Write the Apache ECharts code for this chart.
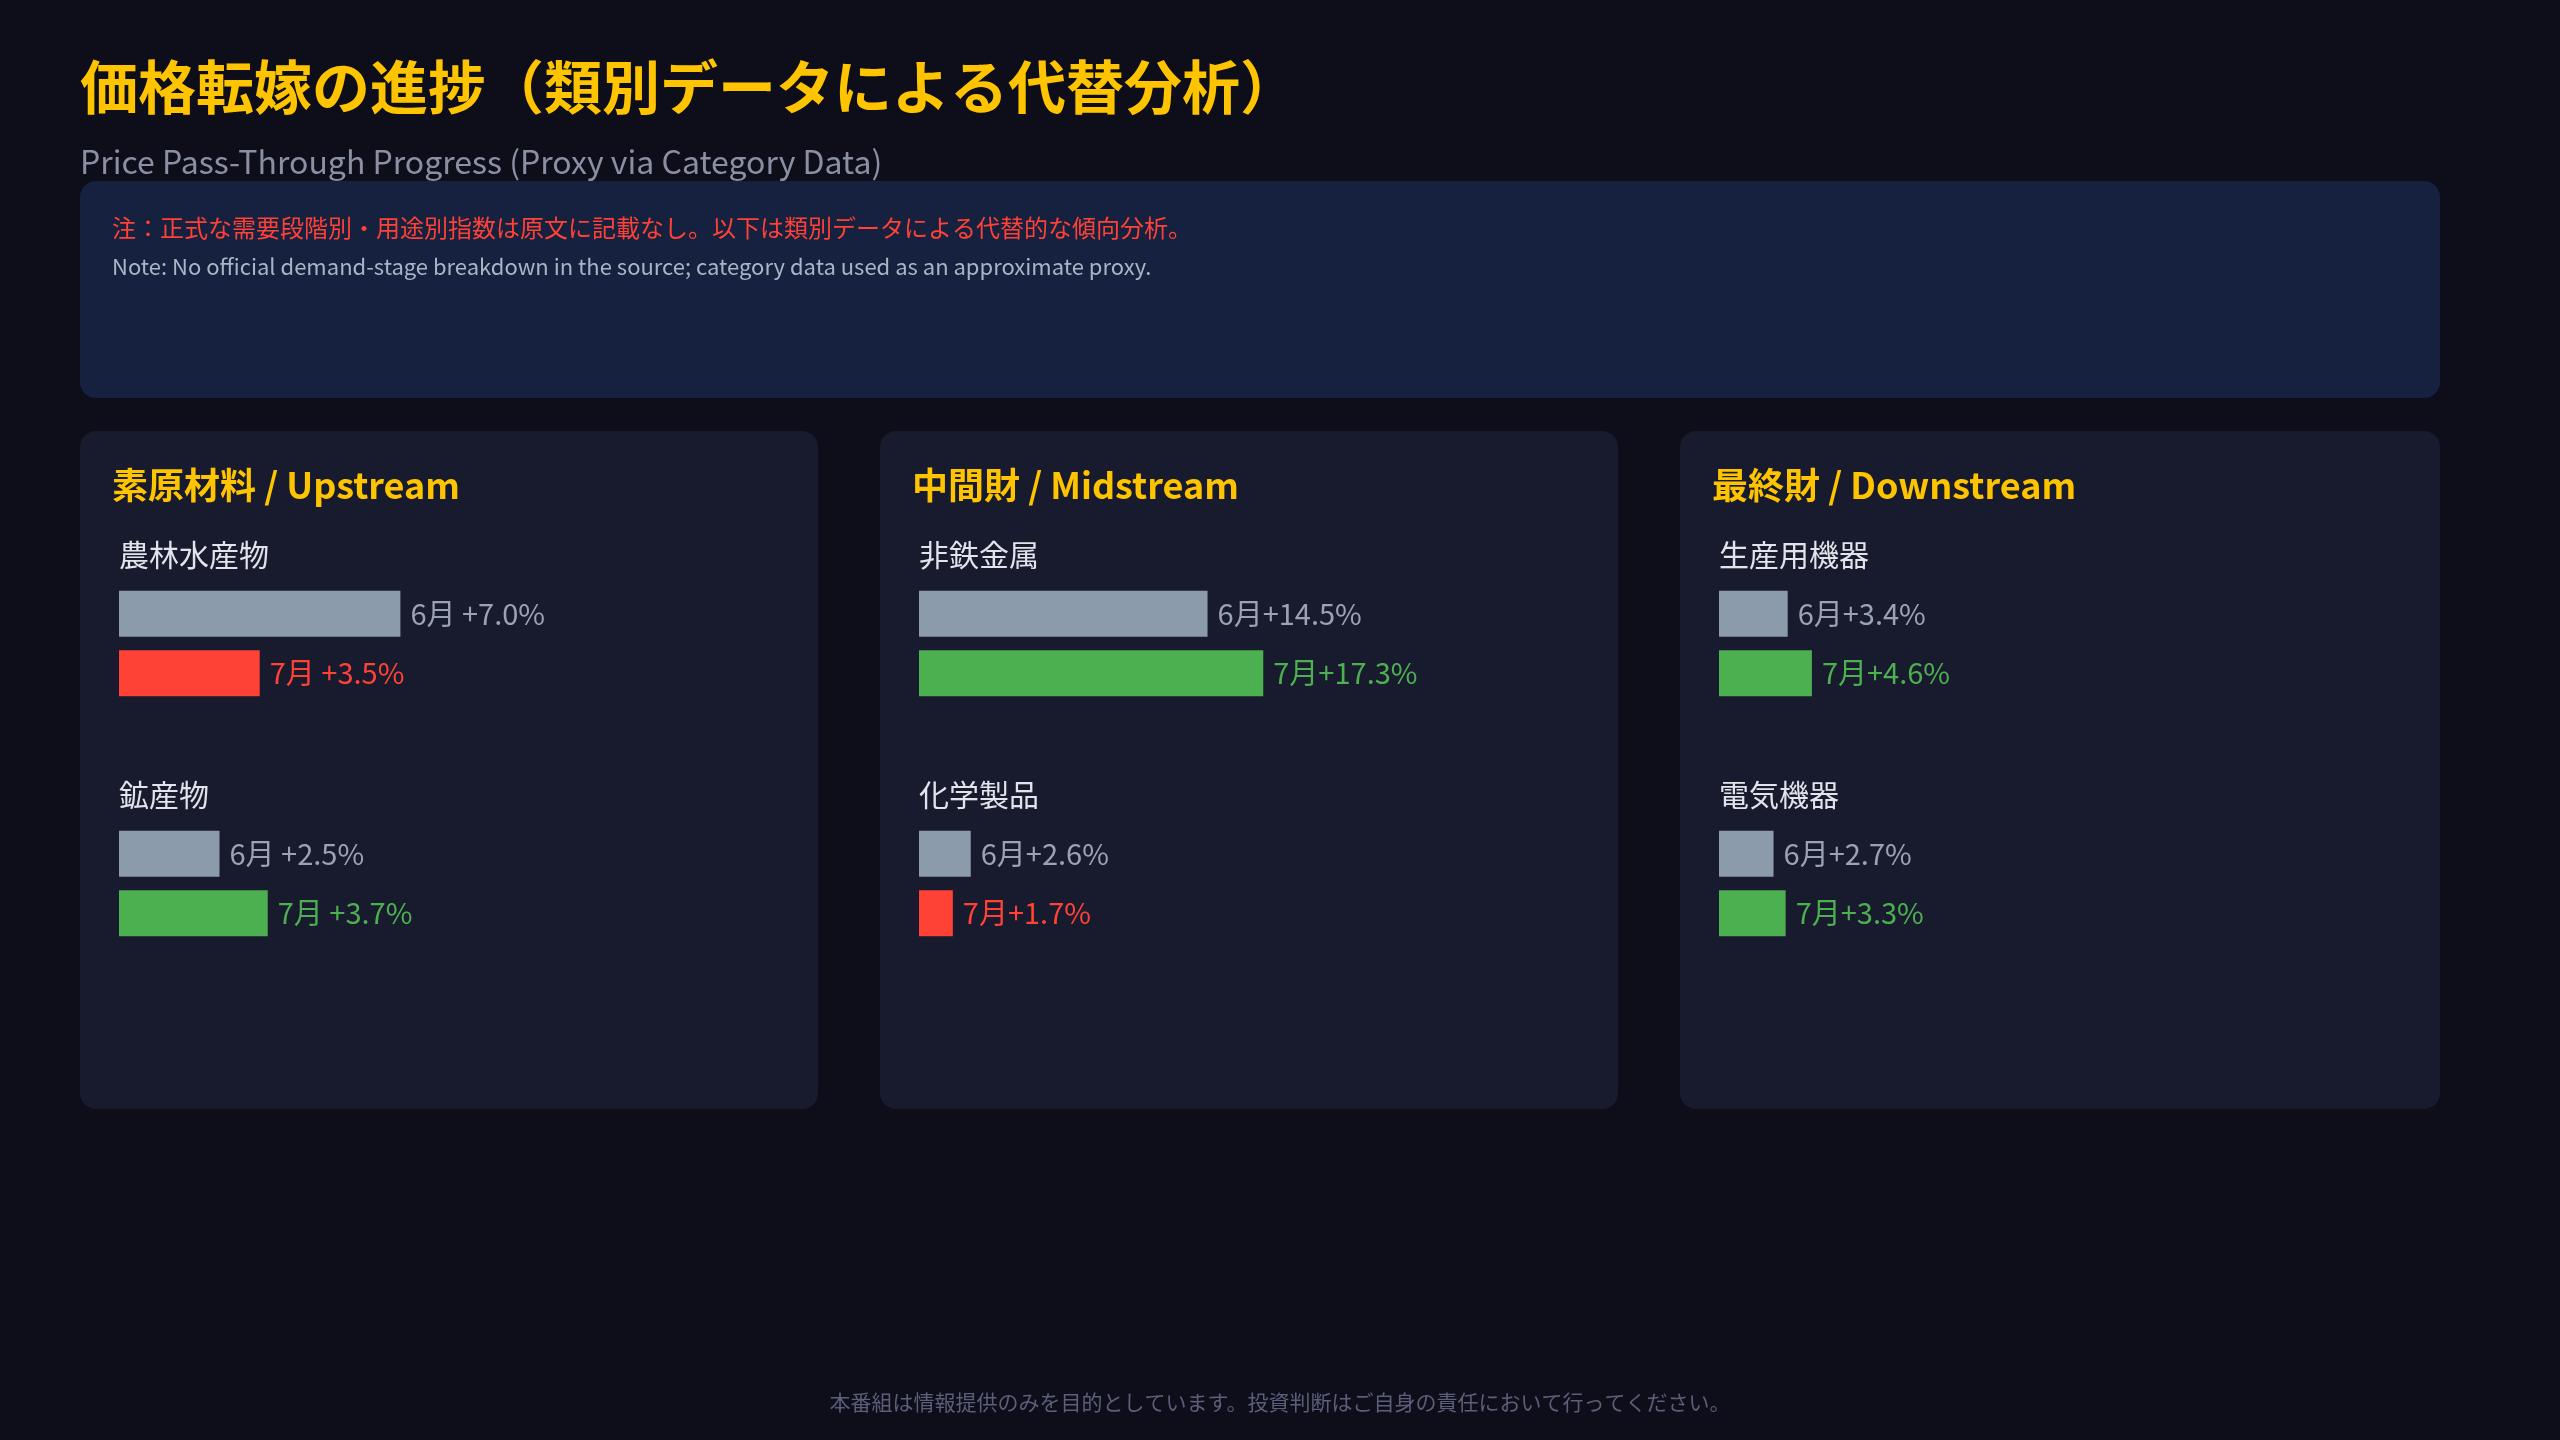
<!DOCTYPE html>
<html>
<head>
<meta charset="utf-8">
<title>価格転嫁の進捗</title>
<script src="https://cdn.jsdelivr.net/npm/echarts@6/dist/echarts.min.js"></script>
<style>
html,body{margin:0;padding:0;background:#0d0e1a;}
#chart{width:2560px;height:1440px;}
</style>
</head>
<body>
<div id="chart"></div>
<script>
// データ
var stages = ['素原材料 / Upstream', '中間財 / Midstream', '最終財 / Downstream'];
var items = [['農林水産物', '鉱産物'], ['非鉄金属', '化学製品'], ['生産用機器', '電気機器']];
var june = [[7.0, 2.5], [14.5, 2.6], [3.4, 2.7]];
var july = [[3.5, 3.7], [17.3, 1.7], [4.6, 3.3]];
var months = ['6月', '7月'];
var gap = [' ', '', '']; // 上流のみ「6月 +7.0%」表記

var chart = echarts.init(document.getElementById('chart'));
var FONT = '"Noto Sans CJK JP", "Noto Sans", sans-serif';

var panelX = [80, 880, 1680];
var panelW = [738, 738, 760];
var pxPerPct = [40.2, 19.9, 20.2];
var rowTop = [584, 824];

var graphic = [
  {type:'text', left:80, top:58, style:{text:'価格転嫁の進捗（類別データによる代替分析）', fill:'#ffc400', font:'bold 58px ' + FONT}},
  {type:'text', left:80, top:146, style:{text:'Price Pass-Through Progress (Proxy via Category Data)', fill:'#8a8fa3', font:'32px ' + FONT}},
  {type:'rect', shape:{x:80, y:181, width:2360, height:217, r:16}, style:{fill:'#15213f'}},
  {type:'text', left:112, top:216, style:{text:'注：正式な需要段階別・用途別指数は原文に記載なし。以下は類別データによる代替的な傾向分析。', fill:'#ff4136', font:'24px ' + FONT}},
  {type:'text', left:112, top:256, style:{text:'Note: No official demand-stage breakdown in the source; category data used as an approximate proxy.', fill:'#a9b4c4', font:'22px ' + FONT}},
  {type:'text', left:'center', top:1392, style:{text:'本番組は情報提供のみを目的としています。投資判断はご自身の責任において行ってください。', fill:'#5c5e7a', font:'21px ' + FONT}}
];

var grids = [], xAxes = [], yAxes = [], series = [];
stages.forEach(function (st, p) {
  graphic.push({type:'rect', z:-1, shape:{x:panelX[p], y:431, width:panelW[p], height:678, r:16}, style:{fill:'#181a2e'}});
  graphic.push({type:'text', left:panelX[p] + 32, top:467, style:{text:st, fill:'#ffc400', font:'bold 36px ' + FONT}});
  items[p].forEach(function (name, r) {
    graphic.push({type:'text', left:panelX[p] + 39, top:rowTop[r] - 44, style:{text:name, fill:'#e2e4ec', font:'30px ' + FONT}});
    var gi = grids.length;
    var w = panelW[p] - 80;
    grids.push({left:panelX[p] + 39, top:rowTop[r], width:w, height:119});
    xAxes.push({gridIndex:gi, type:'value', min:0, max:w / pxPerPct[p], show:false});
    yAxes.push({gridIndex:gi, type:'category', data:months, inverse:true, show:false});
    var jl = july[p][r];
    var jc = jl >= june[p][r] ? '#4caf50' : '#ff4136';
    series.push({
      type:'bar', xAxisIndex:gi, yAxisIndex:gi, barWidth:46, silent:true, animation:false,
      data:[
        {value:june[p][r], itemStyle:{color:'#8c9bab'},
         label:{color:'#9aa3b2', formatter:months[0] + gap[p] + '+' + june[p][r].toFixed(1) + '%'}},
        {value:jl, itemStyle:{color:jc},
         label:{color:jc, formatter:months[1] + gap[p] + '+' + jl.toFixed(1) + '%'}}
      ],
      label:{show:true, position:'right', distance:10, fontSize:29, fontFamily:FONT}
    });
  });
});

chart.setOption({
  backgroundColor:'#0d0e1a',
  graphic:graphic,
  grid:grids, xAxis:xAxes, yAxis:yAxes, series:series
});
</script>
</body>
</html>
